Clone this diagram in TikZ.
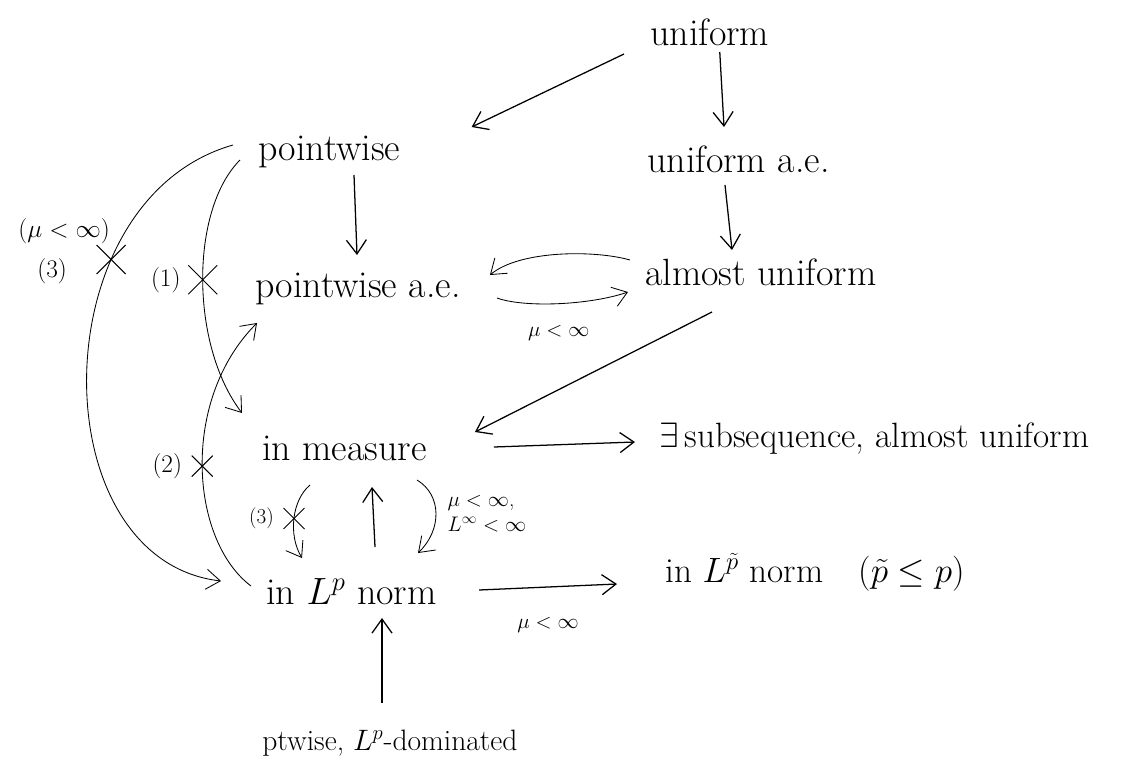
\RequirePackage{fix-cm}
\documentclass[tikz,border=0pt]{standalone}
\usepackage{amsmath,amssymb}
\usepackage{tikz}
\usetikzlibrary{arrows.meta,positioning,shapes.misc}

\begin{document}
\begin{tikzpicture}[
  x=0.025cm,y=-0.025cm,
  conv/.style={inner sep=0pt,anchor=base west,font=\fontsize{27}{32}\selectfont},
  arrow/.style={-{Straight Barb[length=3.5mm,width=5mm]},line width=0.9pt},
  bent/.style={arrow,line width=0.6pt},
  xmark/.style={draw,cross out,minimum size=7mm,inner sep=0pt,line width=0.7pt},
  tag/.style={font=\fontsize{18}{22}\selectfont,inner sep=1pt},
  cond/.style={font=\fontsize{15}{18}\selectfont,inner sep=1pt}
]
\path[use as bounding box,fill=white] (0,0) rectangle (1130,770);
\node[conv] (uni) at (650,45) {uniform};
\node[conv] (pw) at (258,160) {pointwise};
\node[conv] (uae) at (647,172) {uniform a.e.};
\node[conv] (pwae) at (255,297) {pointwise a.e.};
\node[conv] (au) at (645,285) {almost uniform};
\node[conv] (meas) at (262,460) {in measure};
\node[conv,font=\fontsize{25}{30}\selectfont] (sub) at (659,447) {$\exists\,$subsequence, almost uniform};
\node[conv] (lp) at (266,604) {in $L^p$ norm};
\node[conv,font=\fontsize{25}{30}\selectfont] (lpt) at (665,582) {in $L^{\tilde p}$ norm\quad($\tilde p\le p$)};
\node[conv,font=\fontsize{21}{25}\selectfont] (dom) at (262,750) {ptwise, $L^p$-dominated};
\draw[arrow] ([shift={(-26,9)}]uni.base west) -- ([shift={(71,-33)}]pw.base east);
\draw[arrow] ([shift={(10,7)}]uni.base) -- ([shift={(77,-45)}]uae.base west);
\draw[arrow] ([shift={(96,15)}]pw.base west) -- ([shift={(102,-42)}]pwae.base west);
\draw[arrow] ([shift={(78,13)}]uae.base west) -- ([shift={(87,-35)}]au.base west);
\draw[bent] ([shift={(-15,-25)}]au.base west) .. controls +(-35,-10) and +(30,-25) .. ([shift={(29,-22)}]pwae.base east);
\draw[bent] ([shift={(36,1)}]pwae.base east) .. controls +(28,10) and +(-38,13) .. ([shift={(-17,7)}]au.base west)
  node[cond,pos=0.5,below=5mm] {$\mu<\infty$};
\draw[arrow] ([shift={(67,27)}]au.base west) -- ([shift={(48,-28)}]meas.base east);
\draw[arrow] ([shift={(67,-13)}]meas.base east) -- ([shift={(-24,-5)}]sub.base west);
\draw[bent] ([shift={(-18,0)}]pw.base west) .. controls (190,210) and (190,345) .. ([shift={(-20,-47)}]meas.base west)
  node[xmark,pos=0.5] (x1) {};
\node[tag,left=1.5mm of x1] {(1)};
\draw[bent] ([shift={(-15,-18)}]lp.base west) .. controls (190,540) and (180,400) .. ([shift={(2,26)}]pwae.base west)
  node[xmark,pos=0.5,minimum size=5mm] (x2) {};
\node[tag,left=2mm of x2] {(2)};
\draw[bent] ([shift={(-25,-15)}]pw.base west) .. controls (40,200) and (40,560) .. ([shift={(-45,-23)}]lp.base west)
  node[xmark,pos=0.3] (x3) {};
\node[tag,left=7mm of x3,yshift=-3mm] (t3) {(3)};
\node[tag,above=3mm of t3,xshift=3mm] {($\mu<\infty$)};
\draw[bent] ([shift={(48,25)}]meas.base west) .. controls (292,500) and (288,535) .. ([shift={(36,-46)}]lp.base west)
  node[xmark,pos=0.5,minimum size=5mm] (x4) {};
\node[cond,left=2mm of x4] {(3)};
\draw[arrow] ([shift={(109,-57)}]lp.base west) -- ([shift={(110,27)}]meas.base west);
\draw[bent] ([shift={(155,20)}]meas.base west) .. controls (442,495) and (442,530) .. ([shift={(152,-51)}]lp.base west)
  node[cond,pos=0.5,right=2.5mm,align=left] {$\mu<\infty$,\\$L^\infty<\infty$};
\draw[arrow] ([shift={(42,-14)}]lp.base east) -- ([shift={(-48,2)}]lpt.base west)
  node[cond,midway,below=7mm] {$\mu<\infty$};
\draw[arrow] ([shift={(120,-47)}]dom.base west) -- ([shift={(116,14)}]lp.base west);
\end{tikzpicture}
\end{document}
